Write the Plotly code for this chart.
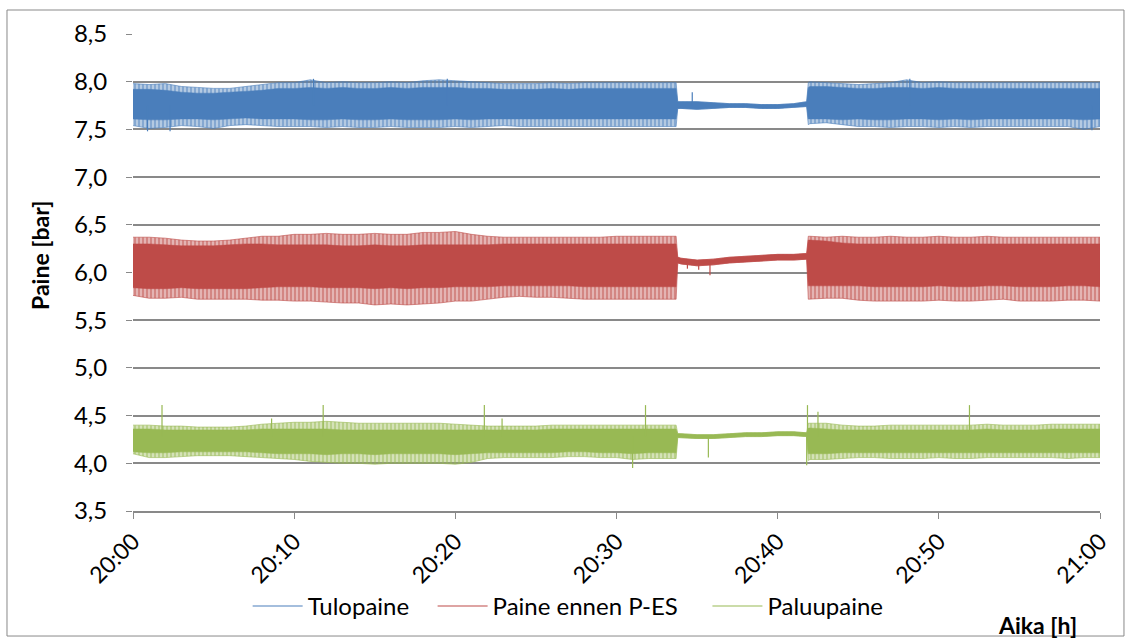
import plotly.graph_objects as go

# time axis in minutes after 20:00
T = [0, 1, 2, 3, 4, 5, 6, 7, 8, 9, 10, 11, 12, 13, 14, 15, 16, 17, 18, 19, 20,
     21, 22, 23, 24, 25, 26, 27, 28, 29, 30, 31, 32, 33, 33.7,
     33.8, 34, 35, 36, 37, 38, 39, 40, 41, 41.8,
     41.9, 42, 43, 44, 45, 46, 47, 48, 49, 50, 51, 52, 53, 54, 55, 56, 57, 58, 59, 60]

tick_vals = [0, 10, 20, 30, 40, 50, 60]
tick_text = ["20:00", "20:10", "20:20", "20:30", "20:40", "20:50", "21:00"]

# ---- Tulopaine (blue) ----
tulo_max = [7.98, 7.97, 7.98, 7.95, 7.94, 7.93, 7.93, 7.95, 7.97, 7.99, 7.99, 8.02, 7.99, 8.00, 7.99, 7.99, 8.00,
            7.99, 8.01, 8.02, 8.01, 8.00, 7.99, 7.98, 7.98, 7.98, 7.99, 7.98, 7.99, 7.99, 7.99, 7.99, 7.99, 7.99, 7.99,
            7.79, 7.79, 7.79, 7.78, 7.77, 7.77, 7.76, 7.76, 7.77, 7.79,
            7.99, 8.00, 7.99, 7.98, 7.97, 7.98, 7.99, 8.02, 7.99, 8.00, 7.99, 7.99, 7.99, 7.99, 7.99, 7.99, 7.99, 7.99, 7.99, 7.99]
tulo_min = [7.54, 7.51, 7.52, 7.54, 7.53, 7.51, 7.54, 7.55, 7.54, 7.53, 7.53, 7.53, 7.52, 7.53, 7.52, 7.52, 7.53,
            7.52, 7.52, 7.52, 7.53, 7.52, 7.53, 7.54, 7.53, 7.53, 7.53, 7.53, 7.53, 7.53, 7.53, 7.53, 7.53, 7.53, 7.53,
            7.72, 7.72, 7.71, 7.72, 7.73, 7.73, 7.72, 7.72, 7.73, 7.74,
            7.55, 7.56, 7.57, 7.55, 7.53, 7.53, 7.52, 7.53, 7.53, 7.52, 7.53, 7.52, 7.53, 7.53, 7.53, 7.53, 7.53, 7.53, 7.50, 7.53]
tulo_core_hi = [7.92, 7.92, 7.91, 7.89, 7.88, 7.88, 7.89, 7.90, 7.91, 7.93, 7.93, 7.94, 7.93, 7.94, 7.93, 7.93, 7.94,
                7.93, 7.94, 7.94, 7.94, 7.93, 7.93, 7.92, 7.92, 7.92, 7.93, 7.92, 7.93, 7.93, 7.93, 7.93, 7.93, 7.93, 7.93,
                7.79, 7.79, 7.79, 7.78, 7.77, 7.77, 7.76, 7.76, 7.77, 7.79,
                7.94, 7.95, 7.95, 7.94, 7.93, 7.93, 7.94, 7.94, 7.93, 7.94, 7.93, 7.93, 7.93, 7.93, 7.93, 7.93, 7.93, 7.93, 7.93, 7.93]
tulo_core_lo = [7.61, 7.60, 7.60, 7.61, 7.61, 7.60, 7.61, 7.62, 7.61, 7.61, 7.61, 7.60, 7.60, 7.61, 7.60, 7.60, 7.61,
                7.60, 7.60, 7.60, 7.61, 7.60, 7.61, 7.61, 7.61, 7.61, 7.61, 7.61, 7.61, 7.61, 7.61, 7.61, 7.61, 7.61, 7.61,
                7.72, 7.72, 7.71, 7.72, 7.73, 7.73, 7.72, 7.72, 7.73, 7.74,
                7.61, 7.61, 7.61, 7.60, 7.61, 7.60, 7.60, 7.61, 7.61, 7.60, 7.61, 7.60, 7.61, 7.61, 7.61, 7.61, 7.61, 7.61, 7.60, 7.61]
tulo_spike_t = [0.9, 2.3, 11.2, 19.5, 34.7, 48.2, 59.5]
tulo_spike_v = [7.48, 7.48, 8.03, 8.03, 7.89, 8.03, 7.49]
tulo_base = 7.75

# ---- Paine ennen P-ES (red) ----
ennen_max = [6.37, 6.37, 6.36, 6.34, 6.33, 6.33, 6.34, 6.36, 6.38, 6.38, 6.40, 6.40, 6.41, 6.40, 6.40, 6.41, 6.40,
             6.40, 6.42, 6.42, 6.43, 6.40, 6.38, 6.37, 6.37, 6.37, 6.37, 6.37, 6.37, 6.37, 6.38, 6.38, 6.38, 6.38, 6.38,
             6.16, 6.15, 6.13, 6.14, 6.16, 6.17, 6.18, 6.19, 6.19, 6.20,
             6.38, 6.38, 6.37, 6.38, 6.37, 6.37, 6.38, 6.37, 6.37, 6.38, 6.37, 6.37, 6.38, 6.37, 6.37, 6.37, 6.37, 6.37, 6.37, 6.37]
ennen_min = [5.76, 5.73, 5.73, 5.74, 5.72, 5.72, 5.72, 5.72, 5.71, 5.71, 5.70, 5.70, 5.69, 5.68, 5.68, 5.66, 5.67,
             5.66, 5.67, 5.68, 5.70, 5.70, 5.72, 5.74, 5.75, 5.74, 5.74, 5.73, 5.72, 5.72, 5.72, 5.72, 5.72, 5.72, 5.72,
             6.10, 6.09, 6.07, 6.08, 6.10, 6.11, 6.12, 6.13, 6.13, 6.14,
             5.72, 5.72, 5.73, 5.73, 5.71, 5.70, 5.70, 5.70, 5.70, 5.71, 5.70, 5.70, 5.71, 5.72, 5.70, 5.70, 5.70, 5.71, 5.71, 5.70]
ennen_core_hi = [6.30, 6.30, 6.29, 6.28, 6.28, 6.28, 6.29, 6.30, 6.30, 6.29, 6.29, 6.29, 6.29, 6.28, 6.28, 6.29, 6.28,
                 6.28, 6.29, 6.29, 6.29, 6.29, 6.29, 6.30, 6.30, 6.30, 6.30, 6.30, 6.30, 6.30, 6.30, 6.30, 6.30, 6.30, 6.30,
                 6.16, 6.15, 6.13, 6.14, 6.16, 6.17, 6.18, 6.19, 6.19, 6.20,
                 6.34, 6.34, 6.33, 6.31, 6.30, 6.30, 6.30, 6.30, 6.30, 6.30, 6.30, 6.30, 6.30, 6.30, 6.30, 6.30, 6.30, 6.30, 6.30, 6.30]
ennen_core_lo = [5.84, 5.83, 5.83, 5.84, 5.83, 5.83, 5.83, 5.83, 5.84, 5.85, 5.85, 5.85, 5.84, 5.84, 5.84, 5.83, 5.84,
                 5.83, 5.84, 5.84, 5.85, 5.85, 5.85, 5.86, 5.86, 5.86, 5.86, 5.86, 5.85, 5.85, 5.85, 5.85, 5.85, 5.85, 5.85,
                 6.10, 6.09, 6.07, 6.08, 6.10, 6.11, 6.12, 6.13, 6.13, 6.14,
                 5.86, 5.86, 5.86, 5.86, 5.86, 5.85, 5.85, 5.85, 5.85, 5.86, 5.85, 5.85, 5.86, 5.86, 5.85, 5.85, 5.85, 5.86, 5.86, 5.85]
ennen_spike_t = [34.4, 35.1, 35.8]
ennen_spike_v = [6.04, 6.03, 5.97]
ennen_base = 6.12

# ---- Paluupaine (green) ----
paluu_max = [4.40, 4.40, 4.39, 4.39, 4.38, 4.38, 4.38, 4.39, 4.41, 4.42, 4.43, 4.43, 4.44, 4.43, 4.42, 4.42, 4.42,
             4.42, 4.42, 4.42, 4.41, 4.40, 4.39, 4.39, 4.39, 4.39, 4.40, 4.40, 4.40, 4.40, 4.40, 4.40, 4.40, 4.40, 4.40,
             4.31, 4.31, 4.30, 4.30, 4.31, 4.32, 4.32, 4.33, 4.33, 4.32,
             4.42, 4.42, 4.42, 4.40, 4.39, 4.39, 4.40, 4.40, 4.40, 4.40, 4.40, 4.40, 4.41, 4.40, 4.40, 4.40, 4.41, 4.41, 4.41, 4.41]
paluu_min = [4.10, 4.06, 4.06, 4.07, 4.08, 4.08, 4.08, 4.07, 4.06, 4.05, 4.04, 4.02, 4.01, 4.00, 4.00, 3.99, 4.00,
             4.00, 4.00, 4.00, 3.99, 4.01, 4.05, 4.06, 4.06, 4.06, 4.06, 4.07, 4.07, 4.06, 4.06, 4.04, 4.05, 4.05, 4.05,
             4.27, 4.27, 4.26, 4.26, 4.27, 4.28, 4.28, 4.29, 4.29, 4.28,
             4.03, 4.04, 4.04, 4.05, 4.06, 4.06, 4.05, 4.05, 4.05, 4.06, 4.05, 4.05, 4.06, 4.06, 4.06, 4.06, 4.06, 4.05, 4.06, 4.06]
paluu_core_hi = [4.36, 4.36, 4.35, 4.35, 4.35, 4.35, 4.35, 4.35, 4.36, 4.36, 4.36, 4.36, 4.36, 4.35, 4.35, 4.35, 4.35,
                 4.35, 4.35, 4.35, 4.35, 4.35, 4.35, 4.35, 4.35, 4.35, 4.36, 4.36, 4.36, 4.36, 4.36, 4.36, 4.36, 4.36, 4.36,
                 4.31, 4.31, 4.30, 4.30, 4.31, 4.32, 4.32, 4.33, 4.33, 4.32,
                 4.37, 4.37, 4.36, 4.35, 4.35, 4.35, 4.35, 4.35, 4.35, 4.35, 4.35, 4.35, 4.36, 4.35, 4.35, 4.35, 4.36, 4.36, 4.36, 4.36]
paluu_core_lo = [4.12, 4.11, 4.11, 4.12, 4.12, 4.12, 4.12, 4.12, 4.11, 4.10, 4.10, 4.10, 4.09, 4.10, 4.10, 4.09, 4.10,
                 4.10, 4.10, 4.10, 4.09, 4.10, 4.11, 4.11, 4.11, 4.11, 4.11, 4.12, 4.12, 4.11, 4.11, 4.10, 4.11, 4.11, 4.11,
                 4.27, 4.27, 4.26, 4.26, 4.27, 4.28, 4.28, 4.29, 4.29, 4.28,
                 4.10, 4.10, 4.10, 4.11, 4.11, 4.11, 4.11, 4.11, 4.11, 4.11, 4.11, 4.11, 4.11, 4.11, 4.11, 4.11, 4.11, 4.11, 4.11, 4.11]
paluu_spike_t = [1.8, 8.6, 11.8, 21.8, 22.9, 31.0, 31.8, 35.7, 41.8, 41.85, 42.5, 51.9]
paluu_spike_v = [4.61, 4.47, 4.61, 4.61, 4.47, 3.95, 4.61, 4.06, 3.98, 4.61, 4.54, 4.61]
paluu_base = 4.28

series = [
    ("Tulopaine", "#4A7EBB", "rgba(74,126,187,0.35)",
     tulo_max, tulo_min, tulo_core_hi, tulo_core_lo, tulo_spike_t, tulo_spike_v, tulo_base),
    ("Paine ennen P-ES", "#BE4B48", "rgba(190,75,72,0.35)",
     ennen_max, ennen_min, ennen_core_hi, ennen_core_lo, ennen_spike_t, ennen_spike_v, ennen_base),
    ("Paluupaine", "#98B954", "rgba(152,185,84,0.35)",
     paluu_max, paluu_min, paluu_core_hi, paluu_core_lo, paluu_spike_t, paluu_spike_v, paluu_base),
]
legend_pad = {"Tulopaine": 3, "Paine ennen P-ES": 4, "Paluupaine": 0}

fig = go.Figure()
for name, col, light, hi, lo, chi, clo, st, sv, base in series:
    # outer envelope: dense strokes with gaps
    fig.add_trace(go.Scatter(
        x=T + T[::-1], y=hi + lo[::-1], mode="lines", line=dict(width=0.6, color=col),
        fill="toself", fillcolor=light,
        fillpattern=dict(shape="|", fgcolor=col, bgcolor=light, size=4, solidity=0.6),
        showlegend=False, hoverinfo="skip"))
    # solid core
    fig.add_trace(go.Scatter(
        x=T + T[::-1], y=chi + clo[::-1], mode="lines", line=dict(width=0.5, color=col),
        fill="toself", fillcolor=col, showlegend=False, hoverinfo="skip"))
    # single spikes, also used as legend sample
    xs, ys = [], []
    for t, v in zip(st, sv):
        xs += [t, t, None]
        ys += [base, v, None]
    fig.add_trace(go.Scatter(x=xs, y=ys, mode="lines", line=dict(width=1.2, color=col),
                             name=name + "\u00a0" * legend_pad[name], hoverinfo="skip"))

font_family = "Lato, 'Open Sans', sans-serif"
fig.update_layout(
    width=1131, height=641,
    margin=dict(l=133, r=31, t=34, b=130),
    paper_bgcolor="white", plot_bgcolor="white",
    separators=", ",
    font=dict(family=font_family, size=24, color="#000000"),
    showlegend=True,
    legend=dict(orientation="h", x=0.45, xanchor="center", y=-0.2, yanchor="middle",
                font=dict(size=24), itemwidth=50, traceorder="normal", bgcolor="rgba(0,0,0,0)"),
    xaxis=dict(range=[0, 60], tickvals=tick_vals, ticktext=tick_text, tickangle=-45,
               showgrid=False, zeroline=False, showline=True, linecolor="#898989", linewidth=1.5,
               ticks="outside", ticklen=6, tickcolor="#898989", tickfont=dict(size=23)),
    yaxis=dict(range=[3.5, 8.5], dtick=0.5, tickformat=".1f", showgrid=True, gridcolor="#898989",
               gridwidth=1.5, zeroline=False, showline=False, ticks="outside", ticklen=6,
               tickcolor="#898989", tickfont=dict(size=24), ticklabelstandoff=14),
    annotations=[
        dict(text="<b>Aika [h]</b>", xref="paper", yref="paper", x=0.935, y=-0.239,
             xanchor="center", yanchor="middle", showarrow=False, font=dict(size=23)),
        dict(text="<b>Paine [bar]</b>", xref="paper", yref="paper", x=-0.096, y=0.535,
             xanchor="center", yanchor="middle", showarrow=False, textangle=-90, font=dict(size=23)),
    ],
    shapes=[dict(type="rect", xref="paper", yref="paper", x0=-0.1303, x1=1.0248, y0=1.0503, y1=-0.2621,
                 line=dict(color="#898989", width=1), fillcolor="rgba(0,0,0,0)", layer="below")],
)

fig.write_html("out.html")
